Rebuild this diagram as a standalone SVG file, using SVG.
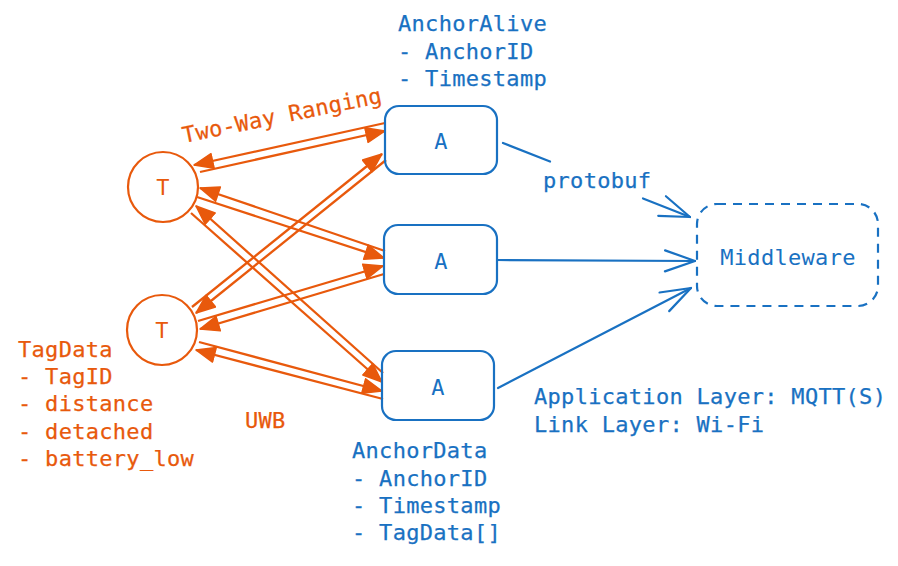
<svg xmlns="http://www.w3.org/2000/svg" width="898" height="566" viewBox="0 0 898 566">
<style>
text{font-family:"DejaVu Sans Mono","Liberation Mono",monospace;font-size:22px;letter-spacing:0.3px;stroke-width:0.25px}
.o{fill:#e8590c;stroke:#e8590c}
.b{fill:#1971c2;stroke:#1971c2}
.c{text-anchor:middle;stroke:none}
.on{fill:none;stroke:#e8590c;stroke-width:2.2}
.bn{fill:none;stroke:#1971c2;stroke-width:2.2}
.ol{stroke:#e8590c;stroke-width:2.3;fill:none;marker-end:url(#tri)}
.bl{stroke:#1971c2;stroke-width:2.2;fill:none;stroke-linecap:round}
</style>
<defs>
<marker id="tri" markerUnits="userSpaceOnUse" viewBox="0 0 21 17" markerWidth="21" markerHeight="17" refX="20" refY="8.5" orient="auto">
<path d="M1,1 L20,8.5 L1,16 Z" fill="#e8590c" stroke="#e8590c" stroke-width="1.5" stroke-linejoin="round"/>
</marker>
<marker id="open" markerUnits="userSpaceOnUse" viewBox="0 0 34 26" markerWidth="34" markerHeight="26" refX="32" refY="13" orient="auto">
<path d="M2,2.5 L32,13 L2,23.5" fill="none" stroke="#1971c2" stroke-width="2.2" stroke-linecap="round" stroke-linejoin="round"/>
</marker>
</defs>

<g id="connectors">
<line class="ol" x1="385" y1="123" x2="194" y2="165"/>
<line class="ol" x1="200" y1="172" x2="385" y2="131"/>
<line class="ol" x1="385" y1="251" x2="200" y2="188"/>
<line class="ol" x1="197" y1="197" x2="384" y2="258"/>
<line class="ol" x1="383" y1="373" x2="196" y2="206"/>
<line class="ol" x1="191" y1="213" x2="382" y2="382"/>
<line class="ol" x1="386" y1="160" x2="196" y2="313"/>
<line class="ol" x1="192" y1="307" x2="382" y2="154"/>
<line class="ol" x1="384" y1="274" x2="200" y2="329"/>
<line class="ol" x1="198" y1="321" x2="383" y2="266"/>
<line class="ol" x1="383" y1="399" x2="196" y2="350"/>
<line class="ol" x1="199" y1="342" x2="382" y2="391"/>
<line class="bl" x1="503" y1="143" x2="550" y2="161.5"/>
<line class="bl" x1="643" y1="198.5" x2="690" y2="217" marker-end="url(#open)"/>
<line class="bl" x1="497" y1="260" x2="695" y2="261" marker-end="url(#open)"/>
<line class="bl" x1="498" y1="388" x2="691" y2="288" marker-end="url(#open)"/>
</g>

<g id="T1"><circle class="on" cx="163" cy="187" r="35"/><text class="o c" x="163" y="195">T</text></g>
<g id="T2"><circle class="on" cx="162" cy="330" r="35"/><text class="o c" x="162" y="338">T</text></g>
<g id="A1"><rect class="bn" x="385" y="106" width="112" height="68" rx="14"/><text class="b c" x="441" y="149">A</text></g>
<g id="A2"><rect class="bn" x="384" y="225" width="113" height="69" rx="14"/><text class="b c" x="441" y="269">A</text></g>
<g id="A3"><rect class="bn" x="382" y="351" width="112" height="69" rx="14"/><text class="b c" x="438" y="395">A</text></g>
<g id="Middleware"><rect class="bn" x="697" y="204" width="181" height="102" rx="20" stroke-dasharray="9 7"/><text class="b c" x="788" y="265">Middleware</text></g>

<g id="labels">
<text class="b" x="398" y="31">AnchorAlive</text>
<text class="b" x="398" y="59">- AnchorID</text>
<text class="b" x="398" y="86">- Timestamp</text>
<text class="o" transform="translate(184,143) rotate(-11.5)">Two-Way Ranging</text>
<text class="b" x="543" y="188">protobuf</text>
<text class="o" x="18" y="357">TagData</text>
<text class="o" x="18" y="384">- TagID</text>
<text class="o" x="18" y="411">- distance</text>
<text class="o" x="18" y="439">- detached</text>
<text class="o" x="18" y="466">- battery_low</text>
<text class="o" x="245" y="428">UWB</text>
<text class="b" x="352" y="458">AnchorData</text>
<text class="b" x="352" y="486">- AnchorID</text>
<text class="b" x="352" y="513">- Timestamp</text>
<text class="b" x="352" y="540">- TagData[]</text>
<text class="b" x="534" y="404">Application Layer: MQTT(S)</text>
<text class="b" x="534" y="432">Link Layer: Wi-Fi</text>
</g>
</svg>
